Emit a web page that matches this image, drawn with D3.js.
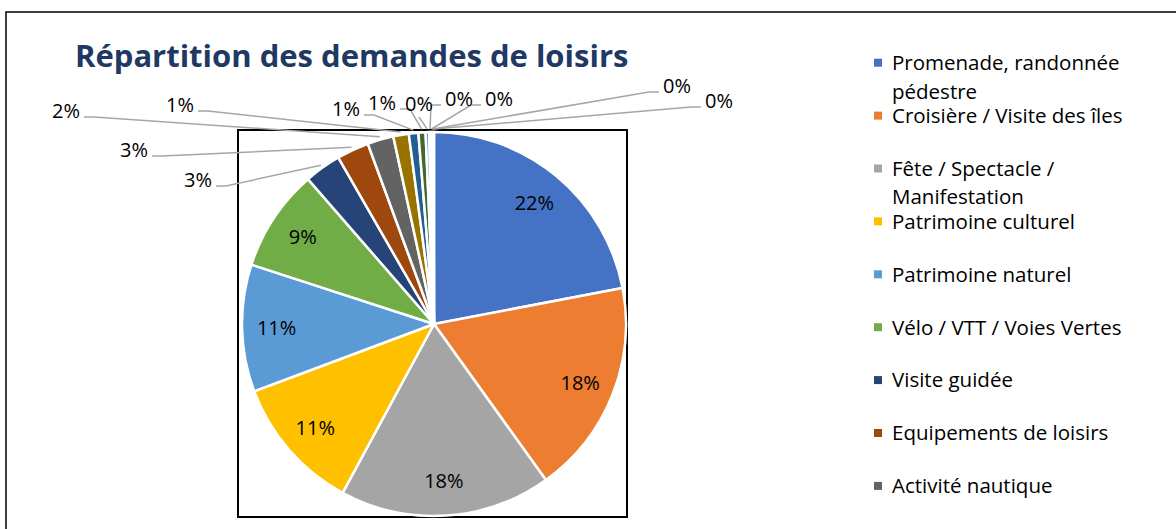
<!DOCTYPE html>
<html>
<head>
<meta charset="utf-8">
<title>Répartition des demandes de loisirs</title>
<script src="https://cdn.jsdelivr.net/npm/d3@7"></script>
<style>
  body { margin: 0; background: #fff; }
  text { font-family: "Open Sans", sans-serif; }
</style>
</head>
<body>
<div id="chart"></div>
<script>
// categories in slice order (only the first 9 fit in the legend)
var categories = [
  "Promenade, randonnée pédestre",
  "Croisière / Visite des îles",
  "Fête / Spectacle / Manifestation",
  "Patrimoine culturel",
  "Patrimoine naturel",
  "Vélo / VTT / Voies Vertes",
  "Visite guidée",
  "Equipements de loisirs",
  "Activité nautique",
  "Catégorie 10", "Catégorie 11", "Catégorie 12", "Catégorie 13",
  "Catégorie 14", "Catégorie 15", "Catégorie 16", "Catégorie 17"
];
// share of requests, in %
var values = [22.0, 18.1, 17.8, 11.4, 10.7, 8.6, 3.1, 2.7, 2.2, 1.3, 0.8, 0.6, 0.3, 0.15, 0.1, 0.1, 0.05];
var colors = ["#4472C4", "#ED7D31", "#A5A5A5", "#FFC000", "#5B9BD5", "#70AD47",
              "#264478", "#9E480E", "#636363", "#997300", "#255E91", "#43682B",
              "#698ED0", "#F1975A", "#B7B7B7", "#FFCD33", "#7CAFDD"];
var legendCount = 9;

// where the outside labels of the small slices sit, offsets from the pie centre
var labelSpots = [[-236, -144], [-300, -174], [-368, -213], [-254, -219], [-88, -215],
                  [-52, -221], [-15, -220], [25, -225], [65, -225], [243, -238], [285, -223]];

var W = 1176, H = 529;
var cx = 434, cy = 324, R = 192;

var svg = d3.select('#chart').append('svg')
  .attr('width', W)
  .attr('height', H);

// chart frame (runs off the right and bottom)
svg.append('rect')
  .attr('x', 6).attr('y', 12)
  .attr('width', W + 20).attr('height', H + 20)
  .attr('fill', 'none')
  .attr('stroke', '#000')
  .attr('stroke-width', 1.5);

svg.append('text')
  .attr('x', 75).attr('y', 67)
  .attr('fill', '#1F3864')
  .style('font-size', '31px')
  .style('font-weight', 700)
  .text('Répartition des demandes de loisirs');

// plot area box
svg.append('rect')
  .attr('x', 238).attr('y', 130)
  .attr('width', 389).attr('height', 387)
  .attr('fill', 'none')
  .attr('stroke', '#000')
  .attr('stroke-width', 2);

var total = d3.sum(values);
var arcs = d3.pie().sort(null).value(function(d){ return d })(values);
var arc = d3.arc().innerRadius(0).outerRadius(R);
var labelArc = d3.arc().innerRadius(R * 0.82).outerRadius(R * 0.82);

var g = svg.append('g').attr('transform', 'translate(' + cx + ',' + cy + ')');

g.selectAll('path.slice')
  .data(arcs)
  .enter().append('path')
    .attr('class', 'slice')
    .attr('d', arc)
    .attr('fill', function(d, i){ return colors[i] })
    .attr('stroke', '#fff')
    .attr('stroke-width', 2.5)
    .attr('stroke-linejoin', 'round');

function pct(d){ return Math.round(d.value / total * 100) + '%' }

var big = arcs.filter(function(d){ return d.value / total >= 0.05 });
var small = arcs.filter(function(d){ return d.value / total < 0.05 });

g.selectAll('text.inside')
  .data(big)
  .enter().append('text')
    .attr('class', 'inside')
    .attr('transform', function(d){ return 'translate(' + labelArc.centroid(d) + ')' })
    .attr('text-anchor', 'middle')
    .attr('dy', '0.36em')
    .style('font-size', '20px')
    .attr('fill', '#000')
    .text(pct);

// outside labels with leader lines
small.forEach(function(d, k){
  var spot = labelSpots[k];
  var t = g.append('text')
    .attr('x', spot[0]).attr('y', spot[1])
    .attr('dy', '0.36em')
    .attr('text-anchor', 'middle')
    .style('font-size', '20px')
    .attr('fill', '#000')
    .text(pct(d));
  var w = t.node().getComputedTextLength();
  var mid = (d.startAngle + d.endAngle) / 2;
  var p = d3.pointRadial(mid, R + 3);
  var pts;
  if (p[0] > spot[0] + 20) {
    var sx = spot[0] + w / 2 + 4, sy = spot[1] + 6;
    pts = [[sx, sy], [sx + 10, sy], p];
  } else if (p[0] < spot[0] - 20) {
    var sx2 = spot[0] - w / 2 - 4, sy2 = spot[1] + 6;
    pts = [[sx2, sy2], [sx2 - 10, sy2], p];
  } else {
    pts = [[spot[0], spot[1] + 13], p];
  }
  g.insert('path', 'text')
    .attr('d', d3.line()(pts))
    .attr('fill', 'none')
    .attr('stroke', '#A6A6A6')
    .attr('stroke-width', 1.5);
});

// legend
var legend = svg.append('g');
var maxW = 262;
categories.slice(0, legendCount).forEach(function(name, i){
  var yc = 62.7 + i * 52.9;
  legend.append('rect')
    .attr('x', 874).attr('y', yc - 4)
    .attr('width', 8).attr('height', 8)
    .attr('fill', colors[i]);
  var t = legend.append('text')
    .attr('x', 892).attr('y', yc + 7.3)
    .style('font-size', '20.5px')
    .attr('fill', '#000');
  var words = name.split(' '), line = [];
  var ts = t.append('tspan').attr('x', 892).attr('dy', 0);
  words.forEach(function(wd){
    line.push(wd);
    ts.text(line.join(' '));
    if (ts.node().getComputedTextLength() > maxW && line.length > 1) {
      line.pop();
      ts.text(line.join(' '));
      line = [wd];
      ts = t.append('tspan').attr('x', 892).attr('dy', 28.5).text(wd);
    }
  });
});
</script>
</body>
</html>
